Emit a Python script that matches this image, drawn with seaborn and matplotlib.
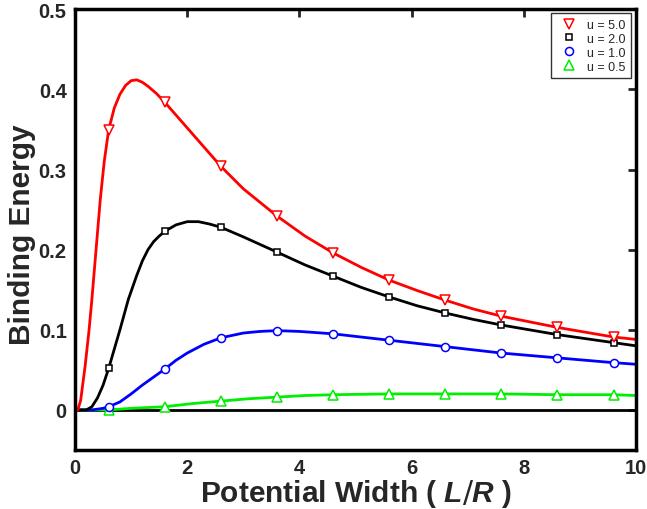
import numpy as np
import pandas as pd
import seaborn as sns
import matplotlib
matplotlib.use("Agg")
import matplotlib.pyplot as plt
from matplotlib.lines import Line2D

sns.set_theme(style="white")
plt.rcParams['font.family'] = ['Liberation Sans', 'DejaVu Sans']
plt.rcParams['mathtext.fontset'] = 'custom'
plt.rcParams['mathtext.it'] = 'Liberation Sans:bold:italic'

# ---- data ----
labels = ["u = 5.0", "u = 2.0", "u = 1.0", "u = 0.5"]
colors = ["#ff0000", "#000000", "#0000ff", "#00ee00"]
markers = ["v", "s", "o", "^"]
msizes = [6.5, 5.0, 5.8, 6.5]

# curve samples
x_u5 = [0.0, 0.05, 0.1, 0.18, 0.25, 0.3, 0.36, 0.45, 0.52, 0.6, 0.7, 0.8, 0.9, 1.0, 1.1, 1.2, 1.3, 1.45, 1.6, 2.0, 2.6, 3.0, 3.6, 4.1, 4.6, 5.1, 5.6, 6.1, 6.6, 7.1, 7.6, 8.1, 8.6, 9.1, 9.6, 10.0]
y_u5 = [0.0, 0.0, 0.012, 0.055, 0.100, 0.138, 0.188, 0.263, 0.310, 0.350, 0.377, 0.394, 0.405, 0.411, 0.412, 0.409, 0.404, 0.395, 0.384, 0.352, 0.304, 0.276, 0.242, 0.217, 0.196, 0.178, 0.162, 0.149, 0.137, 0.126, 0.117, 0.110, 0.103, 0.097, 0.091, 0.088]

x_u2 = [0.0, 0.2, 0.3, 0.4, 0.5, 0.6, 0.7, 0.8, 0.95, 1.1, 1.2, 1.3, 1.4, 1.5, 1.6, 1.8, 2.0, 2.2, 2.4, 2.6, 3.0, 3.6, 4.1, 4.6, 5.1, 5.6, 6.1, 6.6, 7.1, 7.6, 8.1, 8.6, 9.1, 9.6, 10.0]
y_u2 = [0.0, 0.0, 0.004, 0.015, 0.031, 0.052, 0.076, 0.100, 0.138, 0.168, 0.186, 0.200, 0.210, 0.217, 0.223, 0.231, 0.235, 0.235, 0.232, 0.228, 0.216, 0.197, 0.181, 0.167, 0.153, 0.141, 0.130, 0.121, 0.113, 0.106, 0.100, 0.094, 0.089, 0.084, 0.080]

x_u1 = [0.0, 0.3, 0.5, 0.6, 0.8, 1.0, 1.2, 1.4, 1.6, 1.8, 2.0, 2.3, 2.6, 3.0, 3.3, 3.6, 4.0, 4.6, 5.1, 5.6, 6.1, 6.6, 7.1, 7.6, 8.1, 8.6, 9.1, 9.6, 10.0]
y_u1 = [0.0, 0.0, 0.002, 0.004, 0.010, 0.020, 0.031, 0.041, 0.051, 0.062, 0.071, 0.082, 0.090, 0.096, 0.098, 0.099, 0.098, 0.095, 0.091, 0.087, 0.083, 0.079, 0.075, 0.071, 0.068, 0.065, 0.062, 0.059, 0.057]

x_u05 = [0.0, 0.6, 1.0, 1.6, 2.1, 2.6, 3.1, 3.6, 4.1, 4.6, 5.6, 6.6, 7.6, 8.6, 9.6, 10.0]
y_u05 = [0.0, 0.0, 0.002, 0.004, 0.008, 0.011, 0.014, 0.016, 0.018, 0.019, 0.020, 0.020, 0.020, 0.019, 0.019, 0.018]

# marker positions
x_marks = [0.6, 1.6, 2.6, 3.6, 4.6, 5.6, 6.6, 7.6, 8.6, 9.6]
m_u5 = [0.350, 0.384, 0.304, 0.242, 0.196, 0.162, 0.137, 0.117, 0.103, 0.091]
m_u2 = [0.052, 0.223, 0.228, 0.197, 0.167, 0.141, 0.121, 0.106, 0.094, 0.084]
m_u1 = [0.004, 0.051, 0.090, 0.099, 0.095, 0.087, 0.079, 0.071, 0.065, 0.059]
m_u05 = [0.000, 0.004, 0.011, 0.016, 0.019, 0.020, 0.020, 0.020, 0.019, 0.019]

x_ticks = [0, 2, 4, 6, 8, 10]
y_ticks = [0, 0.1, 0.2, 0.3, 0.4, 0.5]
y_ticklabels = ["0", "0.1", "0.2", "0.3", "0.4", "0.5"]

curves = [(x_u5, y_u5), (x_u2, y_u2), (x_u1, y_u1), (x_u05, y_u05)]
marks = [m_u5, m_u2, m_u1, m_u05]

fig = plt.figure(figsize=(6.47, 5.10), dpi=100)
ax = fig.add_axes([0.116, 0.1157, 0.867, 0.864])

# zero line
sns.lineplot(x=[0, 10], y=[0, 0], color="black", lw=2, ax=ax)

order = [3, 2, 1, 0]
for i in order:
    cx, cy = curves[i]
    sns.lineplot(x=cx, y=cy, color=colors[i], lw=2, ax=ax, sort=False)
for i in order:
    ax.plot(x_marks, marks[i], linestyle="none", marker=markers[i], ms=msizes[i],
            mfc="white", mec=colors[i], mew=1.1, zorder=5)

ax.set_xlim(0, 10)
ax.set_ylim(-0.05, 0.5)
ax.set_xticks(x_ticks)
ax.set_yticks(y_ticks)
ax.set_yticklabels(y_ticklabels)
ax.tick_params(direction="in", length=6, width=2, top=True, right=True,
               labelsize=14.5, pad=6)
for lab in ax.get_xticklabels() + ax.get_yticklabels():
    lab.set_fontweight("bold")
for s in ax.spines.values():
    s.set_linewidth(2.5)
    s.set_color("black")

ax.set_xlabel(r"Potential Width ( $\mathit{L/R}$ )", fontsize=21.5, fontweight="bold", labelpad=0)
ax.set_ylabel("Binding Energy", fontsize=21.5, fontweight="bold", labelpad=0)
ax.yaxis.set_label_coords(-0.07, 0.49)

handles = [Line2D([], [], linestyle="none", marker=markers[i], ms=msizes[i], mfc="white",
                  mec=colors[i], mew=1.1) for i in range(4)]
leg = ax.legend(handles, labels, loc="upper right", fontsize=9, frameon=True,
                fancybox=False, edgecolor="black", handletextpad=0.45,
                borderpad=0.45, labelspacing=0.15, handlelength=2.0,
                borderaxespad=0, bbox_to_anchor=(0.991, 0.991))
leg.get_frame().set_linewidth(1)

fig.savefig("out.png", dpi=100)
